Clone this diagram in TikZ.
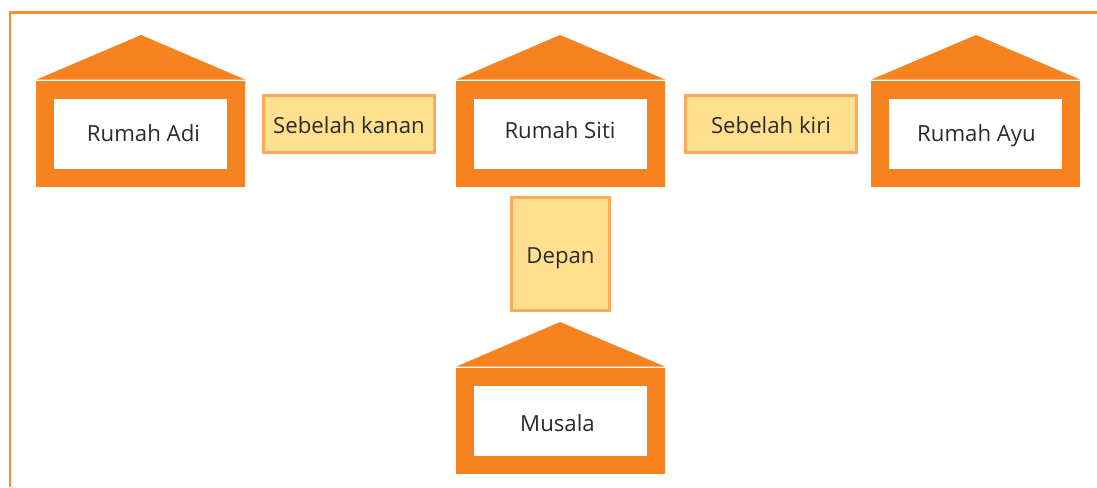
\documentclass[tikz,border=0pt]{standalone}
\usepackage{fontspec}
\setmainfont{Open Sans}
\usetikzlibrary{positioning}
\definecolor{rumahorange}{HTML}{F78320}
\definecolor{boxfill}{HTML}{FFE08F}
\definecolor{boxline}{HTML}{FFA95C}
\definecolor{textdark}{HTML}{2B2B2B}

\begin{document}
\begin{tikzpicture}
	[x=1pt,y=-1pt,
	house node/.style={shape=rectangle,draw=rumahorange,line width=18pt,fill=white,minimum width=191pt,minimum height=88.5pt,inner sep=0pt},
	roof/.style={fill=rumahorange},
	name node/.style={anchor=base,text=textdark,font=\fontsize{22.2}{25}\selectfont,inner sep=0pt},
	link node/.style={shape=rectangle,draw=boxline,line width=2.6pt,fill=boxfill,inner sep=0pt,text height=23pt,text depth=5pt,text=textdark,font=\fontsize{22.2}{25}\selectfont}]
	\useasboundingbox (0,0) rectangle (1097,487);
	\draw[rumahorange!90!white,line width=2.6pt] (10,487) -- (10,12.8) -- (1097,12.8);
	
	\node [house node] (adi) at (140.7,133.8) {};
	\node [house node] (siti) at (560.5,133.8) {};
	\node [house node] (ayu) at (975.5,133.8) {};
	\node [house node] (musala) at (560.5,420.8) {};
	
	\fill [roof] (36.7,79.5) -- (141,35) -- (245,79.5) -- cycle;
	\fill [roof] (456.5,79.5) -- (560,35) -- (665,79.5) -- cycle;
	\fill [roof] (871.5,79.5) -- (976,35) -- (1080,79.5) -- cycle;
	\fill [roof] (456.5,366.5) -- (560,322) -- (665,366.5) -- cycle;
	
	\node [name node] (adilabel) at (143.5,141.5) {Rumah Adi};
	\node [name node] (sitilabel) at (560,138.5) {Rumah Siti};
	\node [name node] (ayulabel) at (976.5,141.5) {Rumah Ayu};
	\node [name node] (musalalabel) at (557.5,431) {Musala};
	
	\node [link node,minimum width=171pt,minimum height=57.5pt] (kanan) at (349,124) {Sebelah kanan};
	\node [link node,minimum width=171pt,minimum height=57.5pt] (kiri) at (771,124) {Sebelah kiri};
	\node [link node,minimum width=98.5pt,minimum height=113.5pt] (depan) at (560.5,254) {Depan};
	
\end{tikzpicture}
\end{document}
